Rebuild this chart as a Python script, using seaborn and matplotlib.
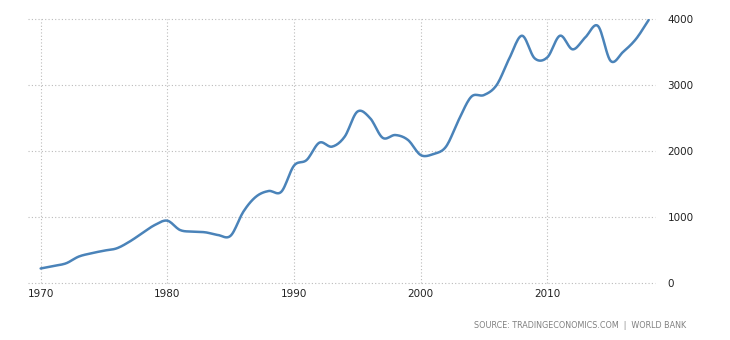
import numpy as np
import pandas as pd
import matplotlib
matplotlib.use("Agg")
import matplotlib.pyplot as plt
import seaborn as sns

years = list(range(1970, 2019))
values = [220, 258, 298, 400, 450, 490, 525, 625, 752, 878,
          944, 803, 778, 768, 727, 717, 1080, 1308, 1394, 1383,
          1778, 1864, 2126, 2066, 2217, 2596, 2500, 2200, 2242, 2167,
          1939, 1954, 2066, 2470, 2823, 2848, 3000, 3404, 3747, 3404,
          3419, 3747, 3540, 3722, 3894, 3364, 3505, 3697, 3985]
y_ticks = [0, 1000, 2000, 3000, 4000]
x_ticks = [1970, 1980, 1990, 2000, 2010]
source_text = "SOURCE: TRADINGECONOMICS.COM  |  WORLD BANK"


def smooth(x, y, n=12):
    # Catmull-Rom rendering of the line through the data points
    x = np.asarray(x, float)
    y = np.asarray(y, float)
    px = np.concatenate([[2 * x[0] - x[1]], x, [2 * x[-1] - x[-2]]])
    py = np.concatenate([[2 * y[0] - y[1]], y, [2 * y[-1] - y[-2]]])
    xs, ys = [], []
    t = np.linspace(0, 1, n, endpoint=False)
    for i in range(1, len(px) - 2):
        for arr, out in ((px, xs), (py, ys)):
            p0, p1, p2, p3 = arr[i - 1], arr[i], arr[i + 1], arr[i + 2]
            out.extend(0.5 * ((2 * p1) + (-p0 + p2) * t +
                              (2 * p0 - 5 * p1 + 4 * p2 - p3) * t ** 2 +
                              (-p0 + 3 * p1 - 3 * p2 + p3) * t ** 3))
    xs.append(x[-1])
    ys.append(y[-1])
    return np.array(xs), np.array(ys)


sx, sy = smooth(years, values)
df = pd.DataFrame({"year": sx, "value": sy})

sns.set_theme(style="white")
plt.rcParams["font.family"] = ["DejaVu Sans"]

fig = plt.figure(figsize=(7.3, 3.4), dpi=100)
ax = fig.add_axes([28 / 730, 57 / 340, 627 / 730, 264 / 340])

sns.lineplot(data=df, x="year", y="value", ax=ax, color="#4a83b9",
             linewidth=1.8, sort=False)

ax.set_xlim(1969, 2018.5)
ax.set_ylim(0, 4000)
ax.set_xticks(x_ticks)
ax.set_yticks(y_ticks)
ax.set_xticklabels([str(t) for t in x_ticks], fontsize=7.5, color="#222222")
ax.set_yticklabels([str(t) for t in y_ticks], fontsize=7.5, color="#222222")
ax.yaxis.tick_right()
ax.tick_params(axis="both", length=0, pad=4)
ax.tick_params(axis="y", pad=9)
ax.set_xlabel("")
ax.set_ylabel("")
ax.grid(True, linestyle=(0, (1, 2)), color="#bbbbbb", linewidth=0.8)
for gl in ax.get_xgridlines() + ax.get_ygridlines():
    gl.set_clip_on(False)
for s in ax.spines.values():
    s.set_visible(False)

fig.text(686 / 730, 1 - 325 / 340, source_text, ha="right", va="center",
         fontsize=5.8, color="#808080")

fig.savefig("out.png", dpi=100)
